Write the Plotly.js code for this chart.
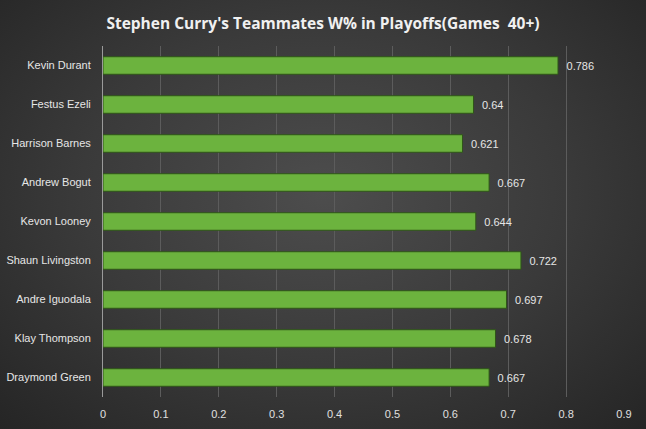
<!DOCTYPE html>
<html>
<head>
<meta charset="utf-8">
<script src="https://cdn.plot.ly/plotly-3.0.1.min.js"></script>
<style>
html,body{margin:0;padding:0;}
body{width:646px;height:429px;overflow:hidden;
background: radial-gradient(ellipse 75% 80% at 50% 45%, #4d4d4d 0%, #3a3a3a 50%, #232323 100%);}
#chart{width:646px;height:429px;}
</style>
</head>
<body>
<div id="chart"></div>
<script>
const players = ["Kevin Durant","Festus Ezeli","Harrison Barnes","Andrew Bogut","Kevon Looney","Shaun Livingston","Andre Iguodala","Klay Thompson","Draymond Green"];
const winPct = [0.786, 0.64, 0.621, 0.667, 0.644, 0.722, 0.697, 0.678, 0.667];
const xTicks = [0,0.1,0.2,0.3,0.4,0.5,0.6,0.7,0.8,0.9];
const xTickText = ["0","0.1","0.2","0.3","0.4","0.5","0.6","0.7","0.8","0.9"];

const fontFam = "'Liberation Sans', Arial, sans-serif";
const trace = {
  type: 'bar',
  orientation: 'h',
  x: winPct,
  y: players,
  text: winPct.map(v => '\u2002' + v),
  textposition: 'outside',
  cliponaxis: false,
  textfont: {family: fontFam, size: 11, color: '#e6e6e6'},
  marker: {color: '#6cb33e', line: {color: '#2f5519', width: 1}},
  hoverinfo: 'none'
};
const layout = {
  width: 646, height: 429,
  paper_bgcolor: 'rgba(0,0,0,0)',
  plot_bgcolor: 'rgba(0,0,0,0)',
  margin: {l: 103, r: 22, t: 46, b: 32},
  title: {text: "<b>Stephen Curry's Teammates W% in Playoffs(Games  40+)</b>",
    x: 0.5, xanchor: 'center', y: 0.946, yanchor: 'middle',
    font: {family: "'Open Sans', sans-serif", size: 15.5, color: '#f0f0f0'}},
  bargap: 0.55,
  showlegend: false,
  xaxis: {range: [0, 0.9], tickvals: xTicks, ticktext: xTickText,
    showgrid: true, gridcolor: '#5c5c5c', gridwidth: 1, zeroline: false,
    showline: false, ticks: '', ticklen: 0, ticklabelstandoff: 9,
    tickfont: {family: fontFam, size: 11, color: '#e0e0e0'}},
  yaxis: {categoryorder: 'array', categoryarray: players, autorange: 'reversed',
    showline: true, linecolor: '#9a9a9a', linewidth: 1, showgrid: false, zeroline: false,
    ticks: '', ticklabelstandoff: 9,
    tickfont: {family: fontFam, size: 11, color: '#e6e6e6'}}
};
Plotly.newPlot('chart', [trace], layout, {staticPlot: true, displayModeBar: false});
</script>
</body>
</html>
